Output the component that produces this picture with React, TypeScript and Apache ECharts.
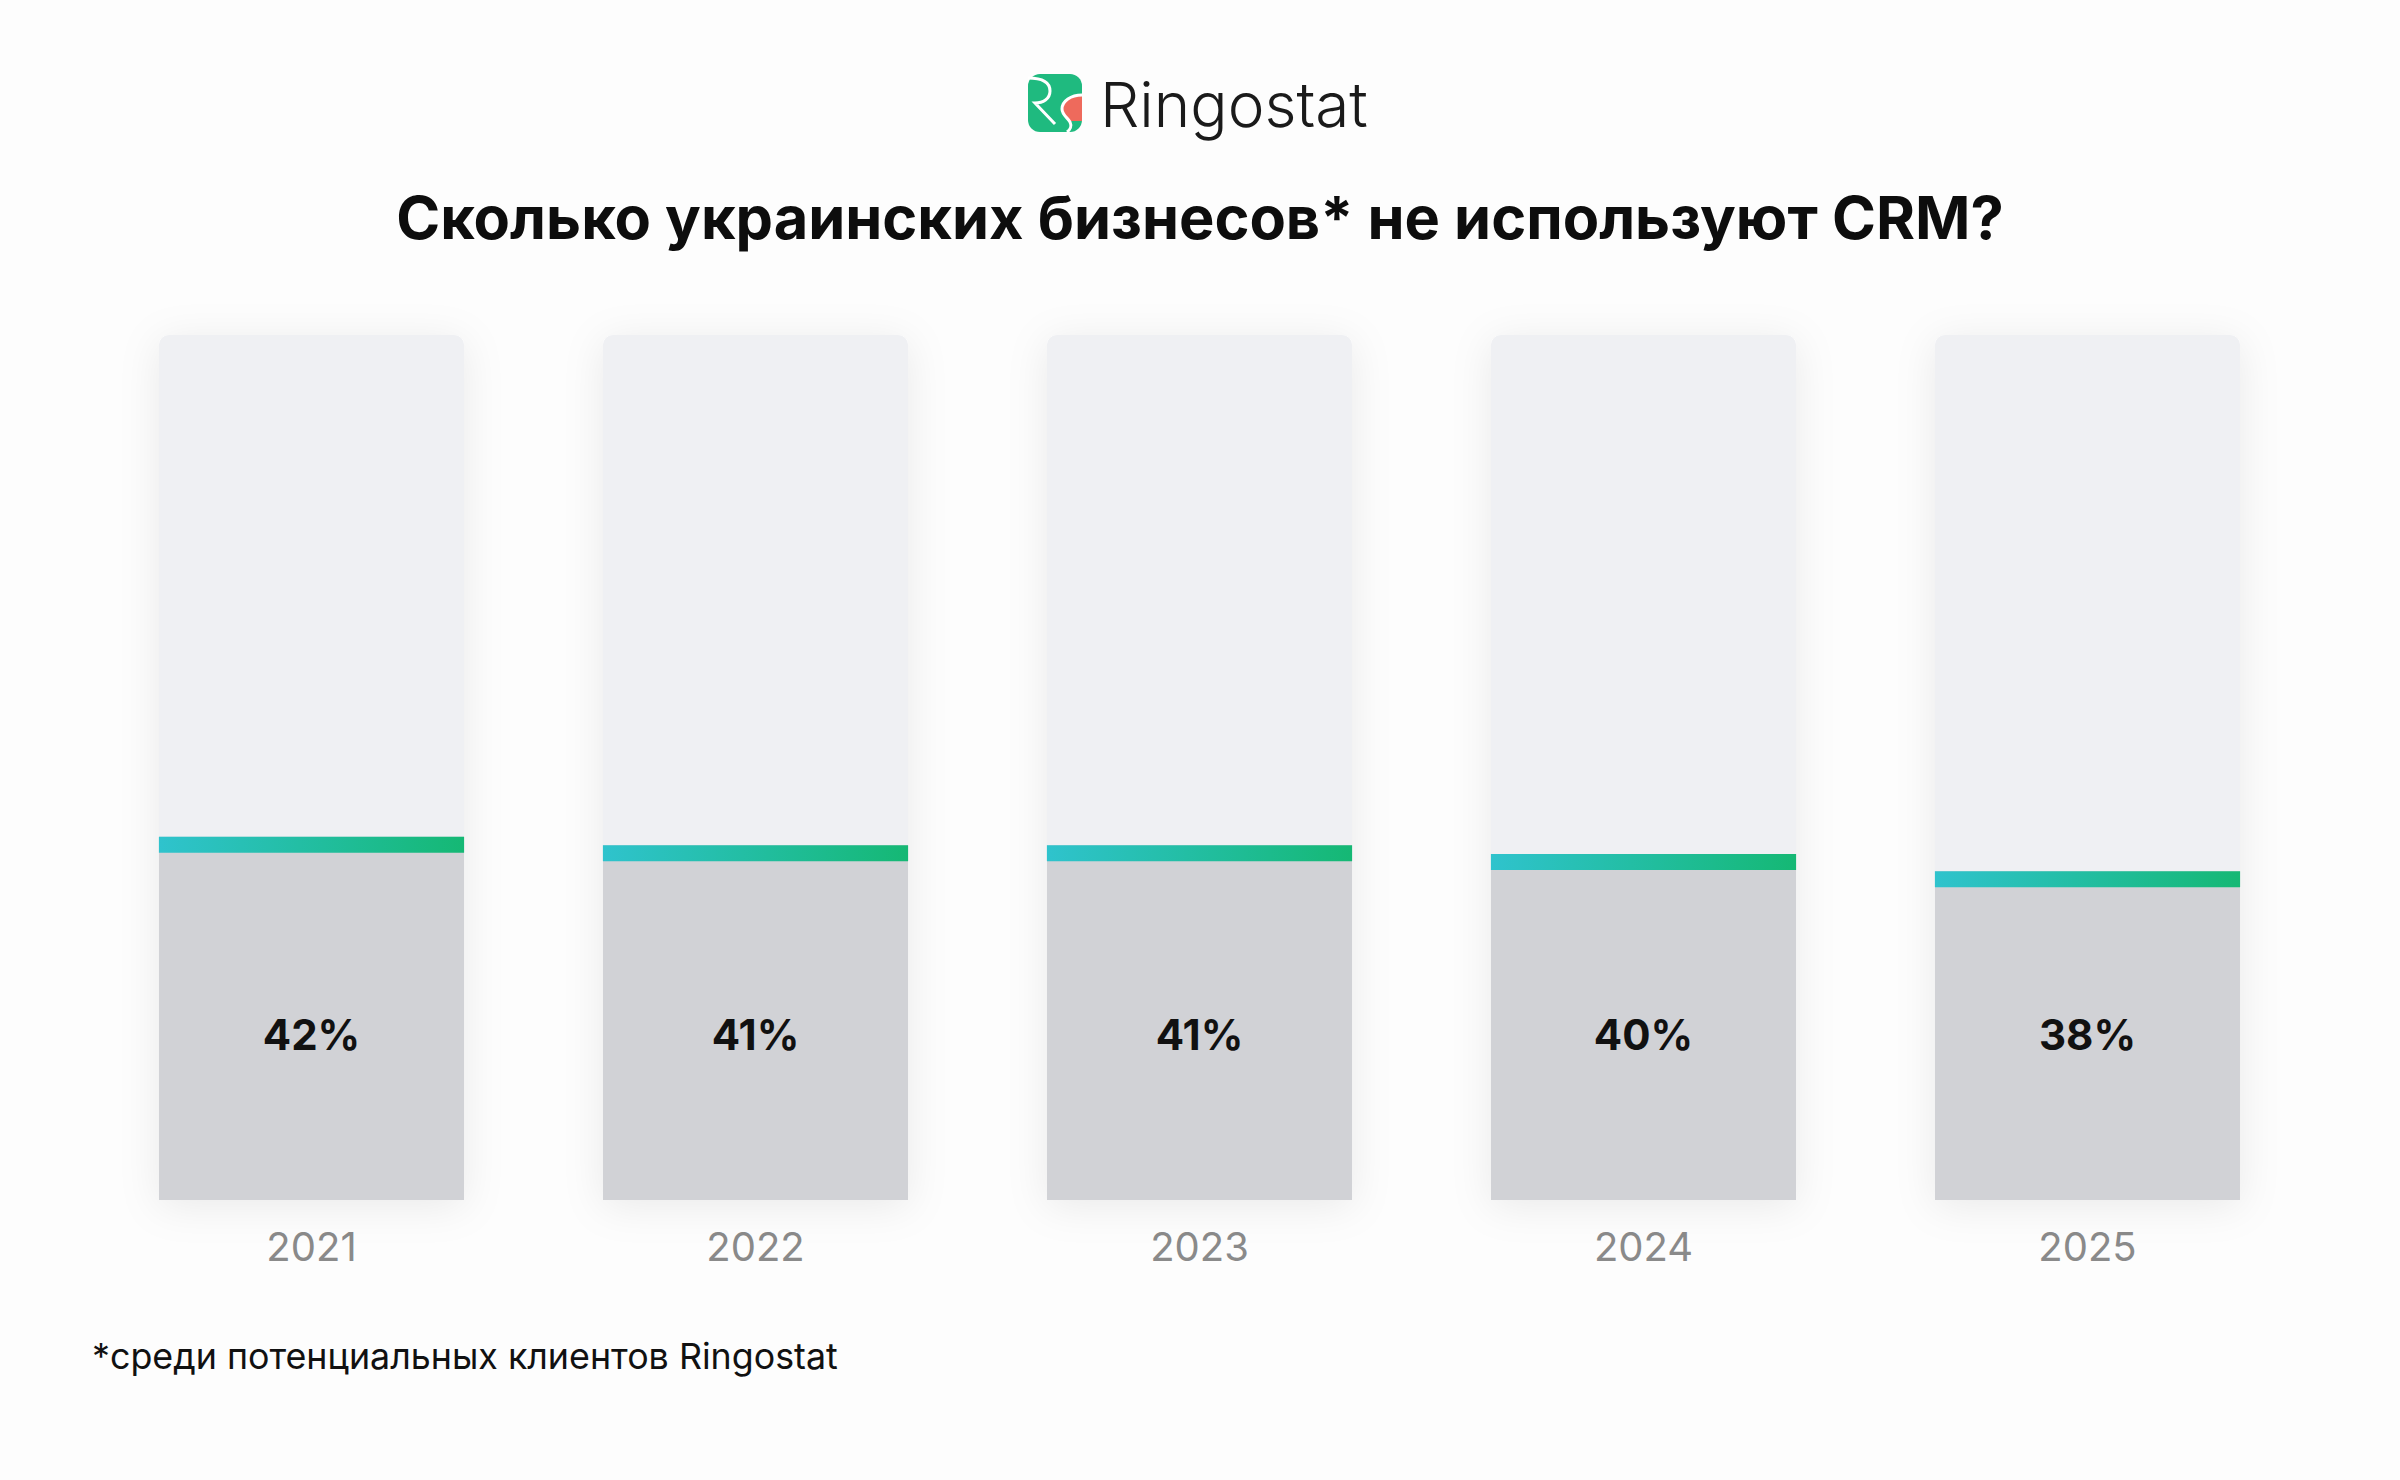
import React, { useEffect, useRef } from "react";
import * as echarts from "echarts";

const years = ["2021", "2022", "2023", "2024", "2025"];
const shareWithoutCrm = [42, 41, 41, 40, 38];
const fullScale = [100, 100, 100, 100, 100];

const titleText = "Сколько украинских бизнесов* не используют CRM?";
const footnoteText = "*среди потенциальных клиентов Ringostat";
const brandText = "Ringostat";

echarts.graphic.registerShape(
  "rsRed",
  echarts.graphic.extendPath(
    "M54 21 C43 21 34 27 34 35 C34 41 39 44 42 47 L54 47 Z",
    {}
  )
);
echarts.graphic.registerShape(
  "rsR",
  echarts.graphic.extendPath(
    "M0 4 C15 4 22 9 22 17 C22 25 15 29 7 29 L27 50",
    {}
  )
);
echarts.graphic.registerShape(
  "rsS",
  echarts.graphic.extendPath(
    "M54 21 C43 21 34 27 34 35 C34 41 40 44 42 48 C44 52 42 56 39 58",
    {}
  )
);

const FONT = "Inter, 'Noto Sans', sans-serif";

export default function App() {
  const ref = useRef<HTMLDivElement>(null);
  useEffect(() => {
    if (!ref.current) return;
    const chart = echarts.init(ref.current, null, { renderer: "svg" });
    const band = new echarts.graphic.LinearGradient(0, 0, 1, 0, [
      { offset: 0, color: "#2fc3cd" },
      { offset: 1, color: "#15b874" },
    ]);
    const iconX = 1028;
    const iconY = 74;
    chart.setOption({
      animation: false,
      backgroundColor: "#fdfdfd",
      grid: { left: 89.5, right: 90.5, top: 335, bottom: 280 },
      xAxis: {
        type: "category",
        data: years,
        axisLine: { show: false },
        axisTick: { show: false },
        axisLabel: {
          color: "#8a8a8a",
          fontSize: 40,
          margin: 26,
          fontFamily: FONT,
        },
      },
      yAxis: { type: "value", min: 0, max: 100, show: false },
      series: [
        {
          type: "bar",
          data: fullScale,
          barWidth: 305,
          barGap: "-100%",
          silent: true,
          itemStyle: {
            color: "#eff0f3",
            borderRadius: [10, 10, 0, 0],
            shadowBlur: 40,
            shadowColor: "rgba(0,0,0,0.08)",
            shadowOffsetY: 6,
          },
          z: 1,
        },
        {
          type: "bar",
          data: shareWithoutCrm,
          barWidth: 305,
          barGap: "-100%",
          itemStyle: { color: "#d1d2d6" },
          label: {
            show: true,
            position: "insideBottom",
            distance: 145,
            formatter: "{c}%",
            fontSize: 42,
            fontWeight: 700,
            color: "#111111",
            fontFamily: FONT,
          },
          z: 2,
        },
        {
          type: "pictorialBar",
          data: shareWithoutCrm,
          barWidth: 305,
          symbol: "rect",
          symbolSize: [305, 16],
          symbolPosition: "end",
          symbolClip: false,
          itemStyle: { color: band },
          z: 5,
        },
      ],
      graphic: [
        {
          type: "rect",
          x: iconX,
          y: iconY,
          shape: { x: 0, y: 0, width: 54, height: 58, r: 12 },
          style: { fill: "#1fba7f" },
          z: 10,
        },
        {
          type: "rsRed",
          x: iconX,
          y: iconY,
          style: { fill: "#ee6a5c" },
          z: 11,
        },
        {
          type: "rsR",
          x: iconX,
          y: iconY,
          style: { fill: null, stroke: "#ffffff", lineWidth: 3 },
          z: 12,
        },
        {
          type: "rsS",
          x: iconX,
          y: iconY,
          style: { fill: null, stroke: "#ffffff", lineWidth: 3 },
          z: 12,
        },
        {
          type: "text",
          x: 1100,
          y: 104,
          style: {
            text: brandText,
            fontSize: 62,
            fontWeight: 300,
            fontFamily: FONT,
            fill: "#1a1a1a",
            verticalAlign: "middle",
            align: "left",
          },
          z: 10,
        },
        {
          type: "text",
          x: 1200,
          y: 217,
          style: {
            text: titleText,
            fontSize: 59.5,
            fontWeight: 700,
            fontFamily: FONT,
            fill: "#0d0d0d",
            align: "center",
            verticalAlign: "middle",
          },
        },
        {
          type: "text",
          x: 92,
          y: 1356,
          style: {
            text: footnoteText,
            fontSize: 35.8,
            fontWeight: 400,
            fontFamily: FONT,
            fill: "#111111",
            align: "left",
            verticalAlign: "middle",
          },
        },
      ],
    });
    return () => chart.dispose();
  }, []);
  return (
    <div
      ref={ref}
      style={{ position: "absolute", left: 0, top: 0, width: 2400, height: 1480 }}
    />
  );
}
